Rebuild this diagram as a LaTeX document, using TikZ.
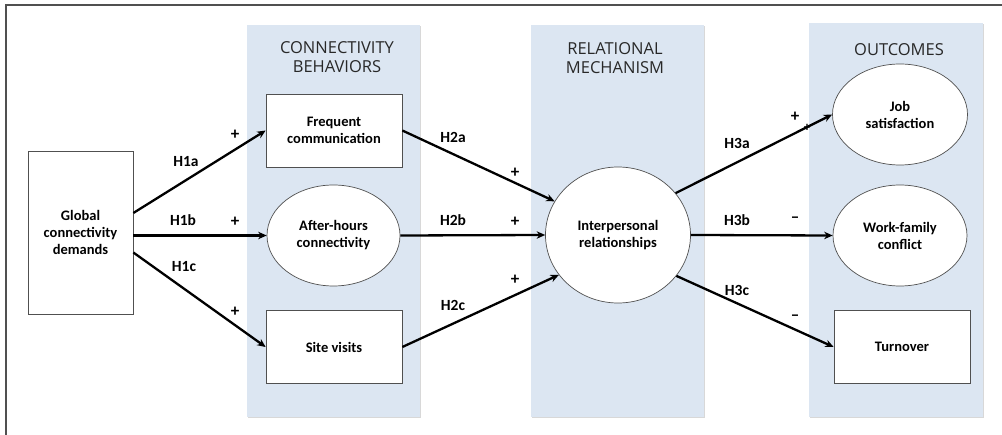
\documentclass[tikz,border=0pt]{standalone}
\usepackage{fontspec}
\setmainfont{Carlito}
\newfontfamily\titlefont{Open Sans}
\usetikzlibrary{shadows,arrows.meta,shapes.geometric}
\definecolor{panelblue}{RGB}{220,230,242}
\definecolor{edgegray}{RGB}{80,80,80}
\definecolor{titlegray}{RGB}{40,40,40}
\begin{document}
\begin{tikzpicture}[x=1pt,y=-1pt,
  panel/.style={fill=panelblue,draw=none,drop shadow={shadow xshift=1pt,shadow yshift=-1pt,opacity=0.3}},
  ptitle/.style={font=\titlefont\fontsize{16.5}{19}\selectfont,text=titlegray,align=center},
  boxnode/.style={rectangle,draw=edgegray,line width=0.7pt,fill=white,align=center,inner sep=0pt,
     font=\fontsize{14.5}{17}\selectfont\bfseries,drop shadow={shadow xshift=1pt,shadow yshift=-1pt,opacity=0.35}},
  ellnode/.style={ellipse,draw=edgegray,line width=0.7pt,fill=white,align=center,inner sep=0pt,
     font=\fontsize{14.5}{17}\selectfont\bfseries},
  conn/.style={line width=2.3pt,-{Stealth[length=8.5pt,width=7.5pt]}},
  hlab/.style={font=\fontsize{15.5}{17}\selectfont\bfseries},
  sgn/.style={font=\fontsize{17}{17}\selectfont\bfseries}
]
\useasboundingbox (0,0) rectangle (1002,435);
\fill[white] (0,0) rectangle (1002,435);
\draw[line width=1.2pt,color=edgegray] (6,435) -- (6,5) -- (1002,5);

% panels
\node[panel,minimum width=173pt,minimum height=392pt,inner sep=0pt] (p1) at (333.5,221) {};
\node[panel,minimum width=173pt,minimum height=392pt,inner sep=0pt] (p2) at (617.5,221) {};
\node[panel,minimum width=174pt,minimum height=394pt,inner sep=0pt] (p3) at (896,220) {};
\node[ptitle] (t1) at (337,57) {CONNECTIVITY\\BEHAVIORS};
\node[ptitle] (t2) at (615,58.5) {RELATIONAL\\MECHANISM};
\node[ptitle] (t3) at (899,50) {OUTCOMES};

% nodes
\node[boxnode,minimum width=105pt,minimum height=163pt] (global) at (80.5,232.5) {Global\\connectivity\\demands};
\node[boxnode,minimum width=136pt,minimum height=73pt] (freq) at (334,130.5) {Frequent\\communication};
\node[ellnode,minimum width=133pt,minimum height=101pt] (after) at (333.5,235.5) {After-hours\\connectivity};
\node[boxnode,minimum width=136pt,minimum height=73pt] (site) at (334,347) {Site visits};
\node[ellnode,minimum width=145pt,minimum height=136pt] (inter) at (618,235) {Interpersonal\\relationships};
\node[ellnode,minimum width=135pt,minimum height=101pt] (job) at (900,114.5) {Job\\satisfaction};
\node[ellnode,minimum width=134pt,minimum height=101pt] (wf) at (900,235.5) {Work-family\\conflict};
\node[boxnode,minimum width=136pt,minimum height=73pt] (turn) at (902,347) {Turnover};

% connectors
\draw[conn] ([yshift=19.5pt]global.east) -- (freq.west);
\draw[conn] (global.east |- after.west) -- (after.west);
\draw[conn] ([yshift=-20pt]global.east) -- (site.west);
\draw[conn] (freq.east) -- (inter.152);
\draw[conn] (after.east) -- (inter.west);
\draw[conn] (site.east) -- (inter.214);
\draw[conn] (inter.36) -- (job.west);
\draw[conn] (inter.east) -- (wf.west);
\draw[conn] (inter.325) -- (turn.west);

% labels
\node[hlab] (l1a) at (186,162) {H1a};
\node[hlab] (l1b) at (183,220) {H1b};
\node[hlab] (l1c) at (184,267) {H1c};
\node[hlab] (l2a) at (453,137) {H2a};
\node[hlab] (l2b) at (453,220) {H2b};
\node[hlab] (l2c) at (453,305) {H2c};
\node[hlab] (l3a) at (737,143) {H3a};
\node[hlab] (l3b) at (737,220) {H3b};
\node[hlab] (l3c) at (737,290) {H3c};

\node[sgn] (s1a) at (235,135) {+};
\node[sgn] (s1b) at (235,222) {+};
\node[sgn] (s1c) at (235,312) {+};
\node[sgn] (s2a) at (515,173) {+};
\node[sgn] (s2b) at (515,222) {+};
\node[sgn] (s2c) at (515,280) {+};
\node[sgn] (s3a) at (795,117) {+};
\node[font=\fontsize{13}{13}\selectfont\bfseries] (s3ax) at (807,127.5) {+};
\node[sgn] (s3b) at (795,220) {–};
\node[sgn] (s3c) at (795,318) {–};
\end{tikzpicture}
\end{document}
